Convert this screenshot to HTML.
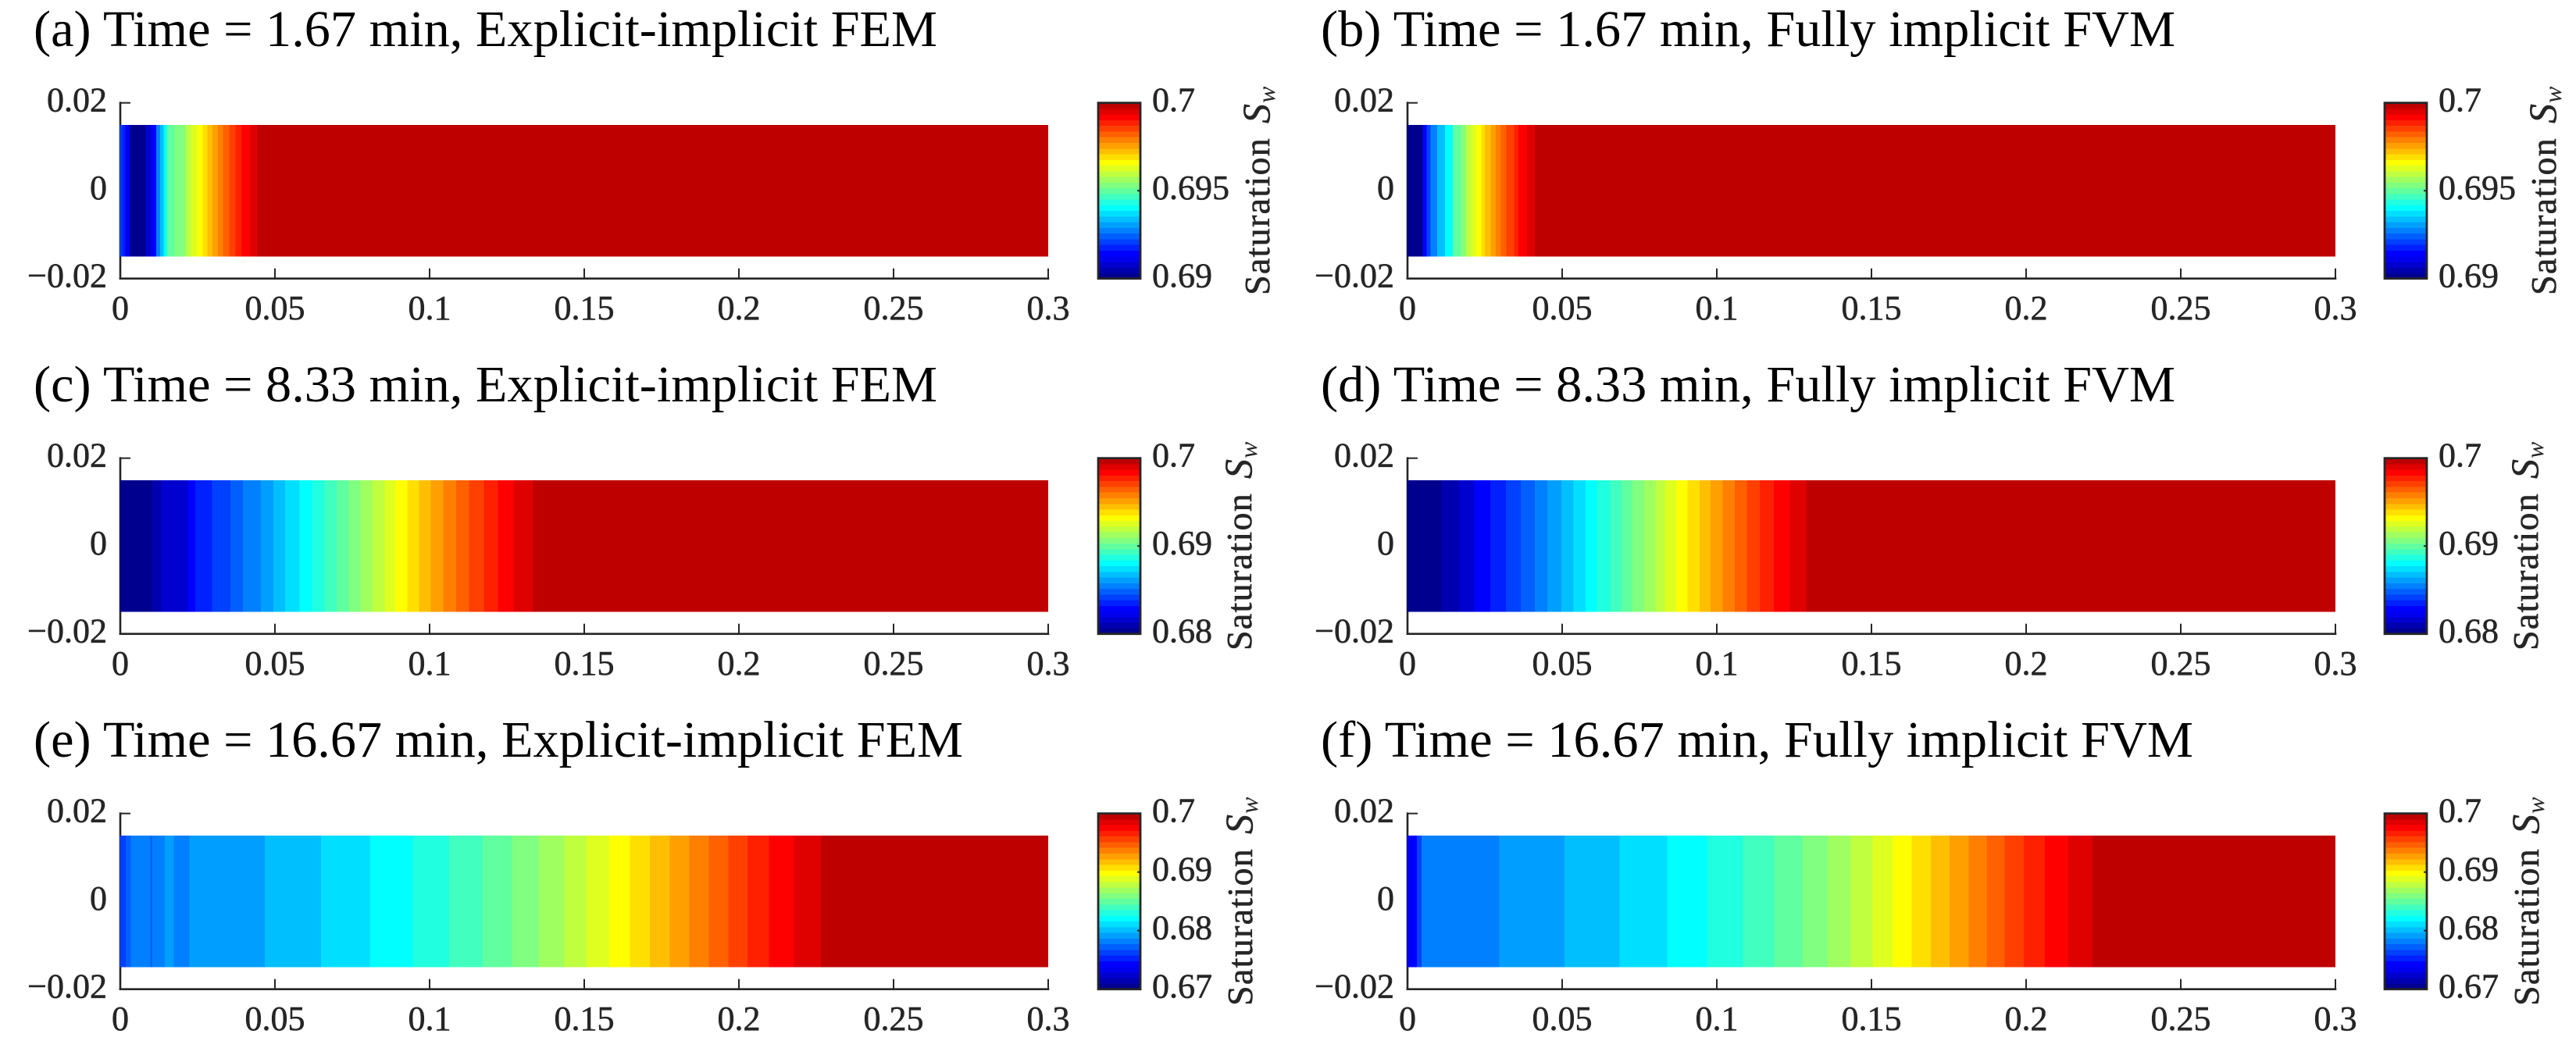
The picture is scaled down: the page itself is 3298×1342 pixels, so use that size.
<!DOCTYPE html>
<html lang="en">
<head>
<meta charset="utf-8">
<title>Saturation profiles: explicit-implicit FEM vs fully implicit FVM</title>
<style>
html,body{margin:0;padding:0;background:#fff;width:3298px;height:1342px;overflow:hidden}
svg{display:block}
text{font-family:"Liberation Serif","DejaVu Serif",serif}
.title{font-size:66px;fill:#000}
.tick{font-size:44px;fill:#262626;stroke:#262626;stroke-width:0.6px}
.cblab{font-size:46px;fill:#262626;letter-spacing:1.3px;stroke:#262626;stroke-width:0.6px}
.cbS{font-size:50px;font-style:italic;fill:#262626;stroke:#262626;stroke-width:0.5px}
.cbW{font-size:32px;font-style:italic;fill:#262626}
</style>
</head>
<body>
<svg id="figure" xmlns="http://www.w3.org/2000/svg" width="3298" height="1342" viewBox="0 0 3298 1342">
  <rect x="0" y="0" width="3298" height="1342" fill="#fff"/>

  <text class="title" x="43" y="59" textLength="1157" lengthAdjust="spacingAndGlyphs">(a) Time = 1.67 min, Explicit-implicit FEM</text>
  <text class="title" x="1691" y="59" textLength="1094" lengthAdjust="spacingAndGlyphs">(b) Time = 1.67 min, Fully implicit FVM</text>
  <text class="title" x="43" y="514" textLength="1157" lengthAdjust="spacingAndGlyphs">(c) Time = 8.33 min, Explicit-implicit FEM</text>
  <text class="title" x="1691" y="514" textLength="1094" lengthAdjust="spacingAndGlyphs">(d) Time = 8.33 min, Fully implicit FVM</text>
  <text class="title" x="43" y="969" textLength="1190" lengthAdjust="spacingAndGlyphs">(e) Time = 16.67 min, Explicit-implicit FEM</text>
  <text class="title" x="1691" y="969" textLength="1117" lengthAdjust="spacingAndGlyphs">(f) Time = 16.67 min, Fully implicit FVM</text>

  <g transform="translate(1625,378) rotate(-90)"><text class="cblab" x="0" y="0">Saturation</text><text class="cbS" x="220" y="0">S</text><text class="cbW" x="246" y="7">w</text></g>
  <g transform="translate(3272,378) rotate(-90)"><text class="cblab" x="0" y="0">Saturation</text><text class="cbS" x="220" y="0">S</text><text class="cbW" x="246" y="7">w</text></g>
  <g transform="translate(1602,833) rotate(-90)"><text class="cblab" x="0" y="0">Saturation</text><text class="cbS" x="220" y="0">S</text><text class="cbW" x="246" y="7">w</text></g>
  <g transform="translate(3249,833) rotate(-90)"><text class="cblab" x="0" y="0">Saturation</text><text class="cbS" x="220" y="0">S</text><text class="cbW" x="246" y="7">w</text></g>
  <g transform="translate(1603,1288) rotate(-90)"><text class="cblab" x="0" y="0">Saturation</text><text class="cbS" x="220" y="0">S</text><text class="cbW" x="246" y="7">w</text></g>
  <g transform="translate(3250,1288) rotate(-90)"><text class="cblab" x="0" y="0">Saturation</text><text class="cbS" x="220" y="0">S</text><text class="cbW" x="246" y="7">w</text></g>
</svg>

<script>
// ---------- chart data: band right-edges (x, metres) and saturation in each band ----------
const panelAEdges = [0.00068,0.00169,0.00321,0.00826,0.00992,0.01162,0.01288,0.01396,0.01497,0.0175,0.02104,0.02298,0.02492,0.02659,0.02821,0.0298,0.03157,0.03326,0.03518,0.0373,0.03914,0.04192,0.04427,0.3];
const panelASat = [0.6921,0.69177,0.69113,0.69016,0.69081,0.69145,0.69274,0.69339,0.69403,0.695,0.69532,0.69597,0.69629,0.69661,0.69694,0.69726,0.69758,0.6979,0.69823,0.69855,0.69887,0.69919,0.69952,0.69984];

const panelBEdges = [0.00497,0.00623,0.0075,0.0096,0.01212,0.01465,0.01717,0.01886,0.02054,0.02222,0.02391,0.025,0.02685,0.02854,0.03022,0.03189,0.03442,0.03586,0.03864,0.04116,0.3];
const panelBSat = [0.69016,0.69145,0.6921,0.69274,0.69339,0.69403,0.695,0.69532,0.69597,0.69629,0.69661,0.69694,0.69726,0.69758,0.6979,0.69823,0.69855,0.69887,0.69919,0.69952,0.69984];

const panelCEdges = [0.01035,0.01331,0.02189,0.02424,0.02972,0.03561,0.03965,0.04545,0.0495,0.05328,0.05791,0.06194,0.06598,0.06995,0.07391,0.0777,0.08149,0.08553,0.08889,0.09285,0.09664,0.10043,0.10437,0.10859,0.1128,0.1175,0.12214,0.1272,0.13348,0.3];
const panelCSat = [0.68032,0.68097,0.68161,0.6829,0.68355,0.68419,0.68484,0.68548,0.68613,0.68677,0.68742,0.68806,0.68871,0.68935,0.69,0.69065,0.69129,0.69194,0.69258,0.69323,0.69387,0.69452,0.69516,0.69581,0.69645,0.6971,0.69774,0.69839,0.69903,0.69968];

const panelDEdges = [0.01095,0.01649,0.02165,0.0268,0.03182,0.03659,0.0411,0.04522,0.04973,0.0536,0.05759,0.0612,0.06558,0.06919,0.07254,0.0764,0.08014,0.08323,0.08684,0.09057,0.09444,0.09792,0.10191,0.10578,0.10977,0.11389,0.1184,0.12356,0.12897,0.3];
const panelDSat = [0.68032,0.68097,0.68161,0.6829,0.68355,0.68419,0.68484,0.68548,0.68613,0.68677,0.68742,0.68806,0.68871,0.68935,0.69,0.69065,0.69129,0.69194,0.69258,0.69323,0.69387,0.69452,0.69516,0.69581,0.69645,0.6971,0.69774,0.69839,0.69903,0.69968];

const panelEEdges = [0.00177,0.00346,0.00977,0.01035,0.01439,0.01725,0.0224,0.04677,0.06495,0.08073,0.0946,0.10634,0.11715,0.12664,0.13533,0.14354,0.15078,0.15803,0.1648,0.17124,0.1777,0.18396,0.19025,0.19654,0.2028,0.20975,0.2178,0.22649,0.3];
const panelESat = [0.67629,0.67726,0.67823,0.67726,0.67823,0.67919,0.67823,0.67919,0.68016,0.68113,0.6821,0.68306,0.68403,0.685,0.68597,0.68694,0.6879,0.68887,0.68984,0.69081,0.69177,0.69274,0.69371,0.69468,0.69565,0.69661,0.69758,0.69855,0.69952];

const panelFEdges = [0.00298,0.00459,0.02971,0.05081,0.06853,0.08399,0.09687,0.10847,0.11861,0.12779,0.13584,0.14325,0.15034,0.15678,0.16306,0.16918,0.1753,0.18142,0.18722,0.19302,0.1993,0.20606,0.21363,0.22152,0.3];
const panelFSat = [0.67435,0.67629,0.67823,0.67919,0.68016,0.68113,0.6821,0.68306,0.68403,0.685,0.68597,0.68694,0.6879,0.68887,0.68984,0.69081,0.69177,0.69274,0.69371,0.69468,0.69565,0.69661,0.69758,0.69855,0.69952];

const xTickValues = [0,0.05,0.1,0.15,0.2,0.25,0.3];
const xTickLabels = ["0","0.05","0.1","0.15","0.2","0.25","0.3"];
const yTickValues = [0.02,0,-0.02];
const yTickLabels = ["0.02","0","\u22120.02"];
const stripBounds = [-0.015,0.015];

const row1Limits = [0.69,0.7];
const row1Ticks = [0.69,0.695,0.7];
const row1Labels = ["0.69","0.695","0.7"];
const row2Limits = [0.68,0.7];
const row2Ticks = [0.68,0.69,0.7];
const row2Labels = ["0.68","0.69","0.7"];
const row3Limits = [0.67,0.7];
const row3Ticks = [0.67,0.68,0.69,0.7];
const row3Labels = ["0.67","0.68","0.69","0.7"];

const panelIds = ["a","b","c","d","e","f"];
const panelEdges = [panelAEdges,panelBEdges,panelCEdges,panelDEdges,panelEEdges,panelFEdges];
const panelSat = [panelASat,panelBSat,panelCSat,panelDSat,panelESat,panelFSat];
const rowLimits = [row1Limits,row2Limits,row3Limits];
const rowTicks = [row1Ticks,row2Ticks,row3Ticks];
const rowLabels = [row1Labels,row2Labels,row3Labels];

// ---------- layout ----------
const NS = "http://www.w3.org/2000/svg";
const svg = document.getElementById("figure");
const INK = "#262626";
const AX_W = 1188, AX_H = 225, CB_W = 54, LEVELS = 31;
const colLeft = [154,1802];
const cbLeft = [1406,3053];
const rowTop = [131.7,586.7,1041.7];

function make(parent,tag,attrs,txt){
  const n = document.createElementNS(NS,tag);
  for(const k in attrs){ n.setAttribute(k,attrs[k]); }
  if(txt!==undefined){ n.textContent = txt; }
  parent.appendChild(n);
  return n;
}
function hex(v){ return Math.round(Math.max(0,Math.min(1,v))*255); }
// banded jet palette, level 0 (lowest) .. 30 (highest)
function levelColor(L){
  const blues=[0.5625,0.6875,0.8125,0.9375,1];
  let r=0,g=0,b=0;
  if(L<=4){ b=blues[L]; }
  else if(L<=12){ g=(L-4)/8; b=1; }
  else if(L<=20){ r=(L-12)/8; g=1; b=1-(L-12)/8; }
  else if(L<=28){ r=1; g=1-(L-20)/8; }
  else { r=1-(L-28)*0.125; }
  return "rgb("+hex(r)+","+hex(g)+","+hex(b)+")";
}
function satLevel(s,lim){
  const L=Math.floor((s-lim[0])/(lim[1]-lim[0])*LEVELS);
  return Math.max(0,Math.min(LEVELS-1,L));
}

panelIds.forEach(function(id,i){
  const col=i%2, row=Math.floor(i/2);
  const left=colLeft[col], top=rowTop[row], bottom=top+AX_H;
  const xScale=function(v){ return left+v/0.3*AX_W; };
  const yScale=function(v){ return top+(0.02-v)/0.04*AX_H; };
  const lim=rowLimits[row];
  const cScale=function(v){ return bottom-(v-lim[0])/(lim[1]-lim[0])*AX_H; };

  const g=make(svg,"g",{});
  
  

  // spines
  const ySpine=make(g,"line",{x1:left,x2:left,y1:top-1.3,y2:bottom+1.3,stroke:INK,"stroke-width":2.6});
  
  
  const xSpine=make(g,"line",{x1:left-1.3,x2:left+AX_W+1.3,y1:bottom,y2:bottom,stroke:INK,"stroke-width":2.6});
  
  

  // x ticks & labels
  xTickValues.forEach(function(v,k){
    const px=xScale(v);
    if(k>0){
      const t=make(g,"line",{x1:px,x2:px,y1:bottom,y2:bottom-13,stroke:INK,"stroke-width":2});
      
      
    }
    const lab=make(g,"text",{class:"tick",x:px,y:top+277.5,"text-anchor":"middle"},xTickLabels[k]);
    
    
  });

  // y ticks & labels
  yTickValues.forEach(function(v,k){
    const py=yScale(v);
    if(k<2){
      const t=make(g,"line",{x1:left,x2:left+13,y1:py,y2:py,stroke:INK,"stroke-width":2});
      
      
    }
    const lab=make(g,"text",{class:"tick",x:left-17,y:py+11,"text-anchor":"end"},yTickLabels[k]);
    
    
  });

  // saturation bands
  const edges=panelEdges[i], sat=panelSat[i];
  const stripTop=yScale(stripBounds[1]), stripBot=yScale(stripBounds[0]);
  const heat=make(g,"g",{"shape-rendering":"crispEdges"});
  
  
  sat.forEach(function(s,k){
    const x0=k===0?0:edges[k-1], x1=edges[k];
    const c=make(heat,"rect",{x:xScale(x0)-(k===0?0.5:0),y:stripTop,width:xScale(x1)-xScale(x0)+(k===0?0.5:0),height:stripBot-stripTop,fill:levelColor(satLevel(s,lim))});
    
    
  });

  // colorbar
  const cx=cbLeft[col];
  const cb=make(svg,"g",{});
  
  
  const cbBands=make(cb,"g",{"shape-rendering":"crispEdges"});
  
  
  for(let L=0;L<LEVELS;L++){
    const vLo=lim[0]+L/LEVELS*(lim[1]-lim[0]);
    const vHi=lim[0]+(L+1)/LEVELS*(lim[1]-lim[0]);
    const b=make(cbBands,"rect",{x:cx,y:cScale(vHi),width:CB_W,height:cScale(vLo)-cScale(vHi)+0.5,fill:levelColor(L)});
    
    
  }
  const frame=make(cb,"rect",{x:cx,y:top,width:CB_W,height:AX_H,fill:"none",stroke:INK,"stroke-width":2.8});
  
  
  rowTicks[row].forEach(function(v,k){
    const py=cScale(v);
    if(v>lim[0] && v<lim[1]){
      const t=make(cb,"line",{x1:cx+CB_W,x2:cx+CB_W-4,y1:py,y2:py,stroke:INK,"stroke-width":2});
      
      
    }
    const lab=make(cb,"text",{class:"tick",x:cx+69,y:py+11},rowLabels[row][k]);
    
    
  });
});
</script>
</body>
</html>
